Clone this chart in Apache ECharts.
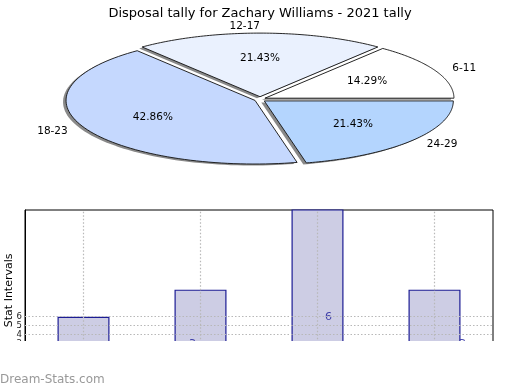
<!DOCTYPE html>
<html>
<head>
<meta charset="utf-8">
<script src="https://cdn.jsdelivr.net/npm/echarts@6/dist/echarts.min.js"></script>
<style>html,body{margin:0;padding:0;background:#fff;}#c{width:520px;height:390px;}</style>
</head>
<body>
<div id="c"></div>
<script>
const titleText = 'Disposal tally for Zachary Williams - 2021 tally';
const pieCats = ['6-11', '12-17', '18-23', '24-29'];
const pieValues = [2, 3, 6, 3];
const pieColors = ['#ffffff', '#eaf1fe', '#c5d8fe', '#b4d5fe'];
const barCats = ['6-11', '12-17', '18-23', '24-29'];
const barValues = [6, 9, 18, 9];
const barLabels = [2, 3, 6, 3];
const yTicks = [3, 4, 5, 6];
const yAxisName = 'Stat Intervals';
const watermark = 'Dream-Stats.com';

const FONT = 'DejaVu Sans';
const chart = echarts.init(document.getElementById('c'), null, {renderer: 'canvas'});

const total = pieValues.reduce((a, b) => a + b, 0);
const PC = {cx: 260, cy: 99.3, rx: 189, ry: 63.6, ex: 5.5, ey: 2.6};

function pct(v) { return (v / total * 100).toFixed(2) + '%'; }

function renderSlice(params, api) {
  const i = params.dataIndex;
  let before = 0;
  for (let k = 0; k < i; k++) before += pieValues[k];
  const a0 = before / total * 2 * Math.PI;
  const a1 = (before + pieValues[i]) / total * 2 * Math.PI;
  const mid = (a0 + a1) / 2;
  const ox = PC.cx + PC.ex * Math.cos(mid);
  const oy = PC.cy - PC.ey * Math.sin(mid);
  const pts = [[ox, oy]];
  const N = 80;
  for (let s = 0; s <= N; s++) {
    const t = a0 + (a1 - a0) * s / N;
    pts.push([ox + PC.rx * Math.cos(t), oy - PC.ry * Math.sin(t)]);
  }
  const shadow = pts.map(p => [p[0] - 3, p[1] + 1.5]);
  const lx = ox + 1.1 * PC.rx * Math.cos(mid);
  const ly = oy - 1.1 * PC.ry * Math.sin(mid);
  const px = ox + 0.6 * PC.rx * Math.cos(mid);
  const py = oy - 0.6 * PC.ry * Math.sin(mid);
  return {
    type: 'group',
    children: [
      {type: 'polygon', shape: {points: shadow}, style: {fill: 'rgba(40,40,40,0.55)', stroke: null}, z2: 0},
      {type: 'polygon', shape: {points: pts}, style: {fill: pieColors[i], stroke: '#111', lineWidth: 0.9}, z2: 10},
      {type: 'text', x: lx, y: ly, style: {text: pieCats[i], fill: '#000', font: '10.5px "' + FONT + '"',
        align: Math.cos(mid) > 0.01 ? 'left' : 'right', verticalAlign: 'middle'}, z2: 20},
      {type: 'text', x: px, y: py, style: {text: pct(pieValues[i]), fill: '#000', font: '10.5px "' + FONT + '"',
        align: 'center', verticalAlign: 'middle'}, z2: 20}
    ]
  };
}

const labelOffsets = [[-25, 0], [-8, 0], [11, 0], [28, 0]];

const option = {
  animation: false,
  backgroundColor: '#fff',
  textStyle: {fontFamily: FONT},
  title: {
    text: titleText, left: 'center', top: 2,
    textStyle: {fontFamily: FONT, fontSize: 13, fontWeight: 'normal', color: '#000'}
  },
  grid: {left: 25, right: 27, top: 210, bottom: 19.3, show: true, borderColor: '#000', borderWidth: 1,
    containLabel: false, outerBoundsMode: 'none'},
  xAxis: {
    type: 'category', data: barCats, boundaryGap: true,
    axisLine: {show: false}, axisTick: {show: false}, axisLabel: {show: false}, splitLine: {show: false}
  },
  yAxis: {
    type: 'value', min: 0, max: 17.85, interval: 1,
    name: yAxisName, nameLocation: 'middle', nameGap: 10.5, nameMoveOverlap: false,
    nameTextStyle: {fontFamily: FONT, fontSize: 11, color: '#000'},
    axisLine: {show: true, lineStyle: {color: '#000', width: 1}},
    axisTick: {show: false},
    splitLine: {show: false},
    axisLabel: {
      margin: 3, fontSize: 8.5, color: '#222', fontFamily: FONT,
      formatter: v => (yTicks.indexOf(v) >= 0 ? String(v) : '')
    }
  },
  series: [
    {
      type: 'custom', coordinateSystem: 'none',
      data: pieValues.map((v, i) => ({value: v, name: pieCats[i]})),
      renderItem: renderSlice, silent: true
    },
    {
      type: 'bar', data: barValues, barWidth: 52,
      itemStyle: {color: '#cdcde4', borderColor: '#1c1c94', borderWidth: 1.2},
      markLine: {
        silent: true, symbol: 'none', label: {show: false},
        lineStyle: {color: '#b8b8b8', type: [1.5, 2], width: 1.2},
        data: yTicks.map(t => ({yAxis: t})).concat(barCats.map(c => ({xAxis: c})))
      },
      z: 2
    },
    {
      type: 'scatter', symbolSize: 0, z: 4,
      data: barLabels.map((v, i) => ({
        value: [barCats[i], v],
        label: {offset: labelOffsets[i]}
      })),
      label: {show: true, position: 'inside', formatter: p => String(p.value[1]),
        color: '#1a1a9a', fontSize: 11, fontFamily: FONT}
    }
  ],
  graphic: [
    {type: 'rect', left: 0, top: 341, shape: {width: 520, height: 32}, style: {fill: '#fff'}, z: 100},
    {type: 'text', left: 0, top: 374, z: 101,
      style: {text: watermark, fill: '#999', font: '12px "' + FONT + '"'}}
  ]
};
chart.setOption(option);
</script>
</body>
</html>
